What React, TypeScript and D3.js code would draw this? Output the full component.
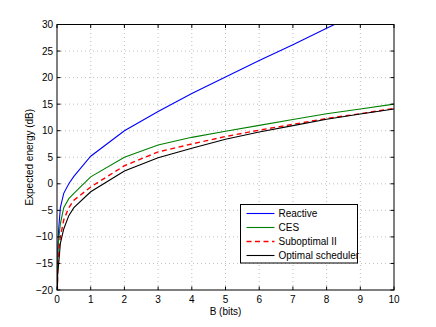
import * as d3 from "d3";

// B (bits) sample points, shared by every series
const bits = [0, 0.02, 0.05, 0.1, 0.2, 0.35, 0.5, 1, 2, 3, 4, 5, 6, 7, 8, 9, 10];

const reactive = [-25, -12.5, -8.5, -4.5, -1.8, 0, 1.4, 5.2, 10.0, 13.6, 17.0, 20.1, 23.2, 26.2, 29.3, 32.3, 35.3];
const ces = [-25, -14, -10.5, -7.5, -4.5, -2.8, -1.8, 1.3, 5.0, 7.3, 8.75, 9.9, 11.0, 12.1, 13.2, 14.1, 15.0];
const subopt = [-25, -16, -12.5, -10, -6.8, -4.5, -3.1, -0.6, 3.4, 6.0, 7.5, 8.9, 10.1, 11.2, 12.3, 13.2, 14.2];
const optimal = [-25, -17, -15, -11.2, -8.5, -6, -4.5, -1.5, 2.4, 4.9, 6.7, 8.4, 9.75, 10.95, 12.15, 13.15, 14.1];

const xTicks = [0, 1, 2, 3, 4, 5, 6, 7, 8, 9, 10];
const yTicks = [-20, -15, -10, -5, 0, 5, 10, 15, 20, 25, 30];

const series = [
  { name: "Reactive", values: reactive, color: "#0000ff", dash: "", w: 1.1 },
  { name: "CES", values: ces, color: "#008000", dash: "", w: 1.1 },
  { name: "Suboptimal II", values: subopt, color: "#ff0000", dash: "5,3.5", w: 1.4 },
  { name: "Optimal scheduler", values: optimal, color: "#000000", dash: "", w: 1.1 },
];

const W = 436;
const H = 327;
const m = { left: 57, right: 42, top: 24.5, bottom: 37 };
const font = "'Liberation Sans', Arial, Helvetica, sans-serif";

export default function App() {
  const x = d3.scaleLinear().domain([0, 10]).range([m.left, W - m.right]);
  const y = d3.scaleLinear().domain([-20, 30]).range([H - m.bottom, m.top]);
  const line = d3
    .line<number>()
    .x((_, i) => x(bits[i]))
    .y((d) => y(d));

  const [x0, x1] = x.range();
  const [y0, y1] = y.range();
  const tick = 3.5;

  const legX = 240.5;
  const legY = 204.5;
  const rowH = 14;

  return (
    <svg
      width={W}
      height={H}
      style={{ position: "absolute", left: 0, top: 0, background: "#fff" }}
      fontFamily={font}
    >
      <defs>
        <clipPath id="plot">
          <rect x={x0} y={y1} width={x1 - x0} height={y0 - y1} />
        </clipPath>
      </defs>

      {/* grid */}
      <g stroke="#c0c0c0" strokeWidth={1} strokeDasharray="1,3">
        {xTicks.slice(1, -1).map((t) => (
          <line key={"gx" + t} x1={x(t)} x2={x(t)} y1={y0} y2={y1} />
        ))}
        {yTicks.slice(1, -1).map((t) => (
          <line key={"gy" + t} x1={x0} x2={x1} y1={y(t)} y2={y(t)} />
        ))}
      </g>

      {/* curves */}
      <g clipPath="url(#plot)" fill="none">
        {series.map((s) => (
          <path
            key={s.name}
            d={line(s.values) ?? ""}
            stroke={s.color}
            strokeWidth={s.w}
            strokeDasharray={s.dash || undefined}
          />
        ))}
      </g>

      {/* box and ticks */}
      <rect x={x0} y={y1} width={x1 - x0} height={y0 - y1} fill="none" stroke="#000" strokeWidth={1} />
      <g stroke="#000" strokeWidth={1}>
        {xTicks.map((t) => (
          <g key={"tx" + t}>
            <line x1={x(t)} x2={x(t)} y1={y0} y2={y0 - tick} />
            <line x1={x(t)} x2={x(t)} y1={y1} y2={y1 + tick} />
          </g>
        ))}
        {yTicks.map((t) => (
          <g key={"ty" + t}>
            <line x1={x0} x2={x0 + tick} y1={y(t)} y2={y(t)} />
            <line x1={x1} x2={x1 - tick} y1={y(t)} y2={y(t)} />
          </g>
        ))}
      </g>

      {/* tick labels */}
      <g fontSize={10} fill="#000">
        {xTicks.map((t) => (
          <text key={"lx" + t} x={x(t)} y={y0 + 13} textAnchor="middle">
            {t}
          </text>
        ))}
        {yTicks.map((t) => (
          <text key={"ly" + t} x={x0 - 4} y={y(t) + 3.5} textAnchor="end">
            {t < 0 ? "\u2212" + Math.abs(t) : t}
          </text>
        ))}
      </g>

      {/* axis labels */}
      <text x={(x0 + x1) / 2} y={y0 + 25} textAnchor="middle" fontSize={10}>
        B (bits)
      </text>
      <text
        transform={`translate(33, ${(y0 + y1) / 2}) rotate(-90)`}
        textAnchor="middle"
        fontSize={10}
      >
        Expected energy (dB)
      </text>

      {/* legend */}
      <rect x={legX} y={legY} width={117} height={58.5} fill="#fff" stroke="#000" strokeWidth={1} />
      {series.map((s, i) => (
        <g key={"leg" + s.name}>
          <line
            x1={legX + 6}
            x2={legX + 34}
            y1={legY + 9 + i * rowH}
            y2={legY + 9 + i * rowH}
            stroke={s.color}
            strokeWidth={s.w}
            strokeDasharray={s.dash || undefined}
          />
          <text x={legX + 38} y={legY + 12.5 + i * rowH} fontSize={10}>
            {s.name}
          </text>
        </g>
      ))}
    </svg>
  );
}
